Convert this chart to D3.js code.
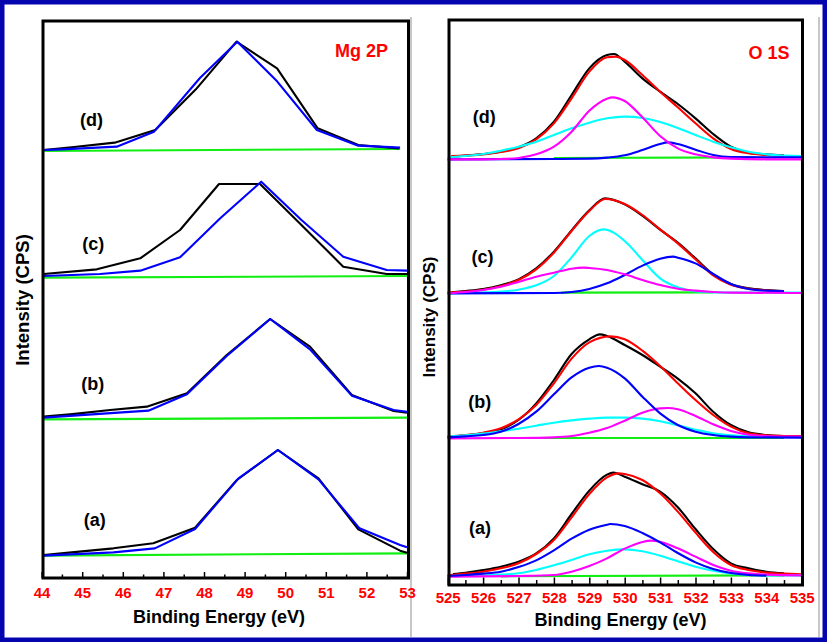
<!DOCTYPE html>
<html><head><meta charset="utf-8">
<script src="https://cdn.jsdelivr.net/npm/d3@7"></script>
<style>body{margin:0;background:#fff} svg{display:block}</style>
</head><body>
<svg id="c" width="827" height="642"></svg>
<script>
// ---------------- DATA ----------------
// Mg 2P panel: binding energy (eV), intensity (arb. counts, stacked)
const MG_TICKS = [44,45,46,47,48,49,50,51,52,53];
const MG_MINOR = [44.5,45.5,46.5,47.5,48.5,49.5,50.5,51.5,52.5];
const O_TICKS  = [525,526,527,528,529,530,531,532,533,534,535];
const O_MINOR  = [525.5,526.5,527.5,528.5,529.5,530.5,531.5,532.5,533.5,534.5];
const SAMPLES  = ["(a)","(b)","(c)","(d)"];

const MG_D_BLACK = [[44.05,1284],[44.8,1293],[45.8,1306],[46.8,1344],[47.8,1466],[48.8,1609],[49.8,1529],[50.8,1349],[51.8,1299],[52.8,1289]];
const MG_D_BLUE  = [[44.05,1284],[44.5,1286],[45.85,1294],[46.77,1339],[47.9,1500],[48.82,1609],[49.8,1490],[50.78,1344],[51.8,1297],[52.83,1291]];
const MG_D_GREEN = [[44.05,1281],[52.83,1287]];

const MG_C_BLACK = [[44.05,912],[45.36,926],[46.43,959],[47.41,1044],[48.37,1182],[49.38,1182],[50.4,1059],[51.43,934],[52.5,912],[53,912]];
const MG_C_BLUE  = [[44.05,906],[45.44,912],[46.43,922],[47.41,962],[48.4,1079],[49.41,1189],[50.4,1074],[51.43,964],[52.5,924],[53,922]];
const MG_C_GREEN = [[44.05,901],[53,906]];

const MG_B_BLACK = [[44.05,484],[44.7,491],[45.69,504],[46.59,514],[47.58,554],[48.56,669],[49.63,777],[50.61,694],[51.64,549],[52.67,501],[53,496]];
const MG_B_BLUE  = [[44.05,481],[45.61,494],[46.63,502],[47.58,551],[48.56,666],[49.63,777],[50.61,686],[51.64,547],[52.67,504],[53,499]];
const MG_B_GREEN = [[44.05,476],[53,481]];

const MG_A_BLACK = [[44.05,69],[44.74,77],[45.77,89],[46.75,104],[47.78,151],[48.81,294],[49.82,384],[50.82,299],[51.8,146],[52.83,82],[53,76]];
const MG_A_BLUE  = [[44.05,67],[45.77,77],[46.79,89],[47.78,147],[48.85,299],[49.82,384],[50.82,296],[51.83,149],[52.83,99],[53,92]];
const MG_A_GREEN = [[44.05,67],[53,74]];

// O 1S panel
const O_D_BLACK = [[525.1,1285],[525.5,1288],[526,1293],[526.5,1300],[527,1313],[527.5,1340],[528,1390],[528.5,1470],[529,1550],[529.5,1590],[529.7,1593],[530,1570],[530.5,1520],[531,1480],[531.5,1443],[532,1400],[532.5,1353],[533,1315],[533.5,1297],[534,1292],[534.5,1289]];
const O_D_RED   = [[525.1,1287],[525.5,1288],[526,1292],[526.5,1299],[527,1310],[527.5,1337],[528,1385],[528.5,1460],[529,1540],[529.5,1583],[529.75,1585],[530,1575],[530.5,1530],[531,1480],[531.5,1433],[532,1385],[532.5,1340],[533,1308],[533.5,1295],[534,1290],[534.5,1288]];
const O_D_CYAN  = [[525,1283],[525.5,1287],[526,1293],[526.5,1303],[527,1315],[527.5,1330],[528,1350],[528.5,1370],[529,1387],[529.5,1400],[530,1405],[530.5,1401],[531,1389],[531.5,1371],[532,1350],[532.5,1330],[533,1313],[533.5,1300],[534,1292],[534.5,1288],[535,1287]];
const O_D_MAG   = [[525,1277],[526,1277],[526.5,1278],[527,1281],[527.5,1292],[528,1315],[528.5,1360],[529,1423],[529.5,1459],[529.65,1463],[530,1452],[530.5,1403],[531,1347],[531.5,1310],[532,1292],[532.5,1283],[533,1279],[534,1277],[535,1277]];
const O_D_BLUE  = [[525,1277],[528,1278],[529,1279],[529.5,1282],[530,1289],[530.5,1305],[531,1323],[531.2,1328],[531.5,1323],[532,1306],[532.5,1290],[533,1284],[534,1283],[535,1283]];
const O_D_GREEN = [[528,1281],[533.7,1283]];

const O_C_BLACK = [[525.1,878],[525.5,882],[526,888],[526.5,899],[527,917],[527.5,950],[528,1000],[528.5,1064],[529,1124],[529.45,1160],[530,1142],[530.5,1108],[531,1066],[531.5,1027],[532,980],[532.5,932],[533,903],[533.5,890],[534,885],[534.5,882]];
const O_C_RED   = [[525,877],[525.5,880],[526,886],[526.5,897],[527,915],[527.5,947],[528,997],[528.5,1062],[529,1122],[529.45,1158],[530,1143],[530.5,1110],[531,1067],[531.5,1025],[532,977],[532.5,929],[533,901],[533.5,889],[534,884],[534.5,881]];
const O_C_CYAN  = [[525,875],[526,878],[526.5,880],[527,886],[527.5,899],[528,927],[528.5,983],[529,1047],[529.4,1067],[530,1032],[530.5,975],[531,920],[531.5,893],[532,881],[533,877],[535,877]];
const O_C_MAG   = [[525,875],[525.5,879],[526,885],[526.5,895],[527,909],[527.5,925],[528,937],[528.5,949],[528.83,952],[529,951],[529.5,945],[530,932],[530.5,915],[531,900],[531.5,889],[532,883],[532.5,879],[533,877],[535,876]];
const O_C_BLUE  = [[525,875],[528,876],[528.5,879],[529,888],[529.5,905],[530,930],[530.5,958],[531,979],[531.37,985],[531.5,982],[532,965],[532.5,933],[533,903],[533.5,888],[534,883],[534.5,881]];
const O_C_GREEN = [[528.2,877],[532.5,878]];

const O_B_BLACK = [[525,444],[525.5,449],[526,455],[526.5,467],[527,495],[527.5,545],[528,615],[528.5,693],[529,737],[529.3,752],[529.5,747],[530,720],[530.5,690],[531,655],[531.5,619],[532,575],[532.5,520],[533,480],[533.5,458],[534,450],[534.5,447],[535,446]];
const O_B_RED   = [[525,446],[525.5,450],[526,457],[526.5,470],[527,497],[527.5,540],[528,605],[528.5,679],[529,728],[529.6,746],[530,737],[530.5,703],[531,657],[531.5,605],[532,555],[532.5,510],[533,475],[533.5,455],[534,449],[534.5,447],[535,446]];
const O_B_CYAN  = [[525,445],[525.5,449],[526,454],[526.5,461],[527,469],[527.5,478],[528,487],[528.5,494],[529,499],[529.5,502],[530,502],[530.5,499],[531,491],[531.5,479],[532,466],[532.5,455],[533,449],[533.5,446],[534,445]];
const O_B_MAG   = [[525,440],[527,441],[528,443],[528.5,447],[529,457],[529.5,471],[530,493],[530.5,517],[531,530],[531.23,531],[531.5,527],[532,507],[532.5,482],[533,462],[533.5,451],[534,447],[534.5,445],[535,445]];
const O_B_BLUE  = [[525,443],[525.5,446],[526,450],[526.5,460],[527,483],[527.5,520],[528,572],[528.5,623],[529,652],[529.27,657],[529.5,652],[530,620],[530.5,565],[531,515],[531.5,480],[532,460],[532.5,450],[533,445],[533.5,443],[535,442]];
const O_B_GREEN = [[526.7,441],[534.5,441]];

const O_A_BLACK = [[525.15,33],[525.5,37],[526,45],[526.5,55],[527,70],[527.5,95],[528,140],[528.5,213],[529,283],[529.5,331],[529.68,337],[530,325],[530.5,302],[531,280],[531.5,233],[532,168],[532.5,108],[533,65],[533.5,50],[534,40],[534.5,35]];
const O_A_RED   = [[525,29],[525.5,34],[526,40],[526.5,50],[527,65],[527.5,93],[528,135],[528.5,203],[529,273],[529.5,323],[529.82,335],[530,333],[530.5,315],[531,275],[531.5,220],[532,157],[532.5,99],[533,60],[533.5,45],[534,37],[534.5,34],[535,32]];
const O_A_CYAN  = [[525,27],[526,29],[526.5,31],[527,35],[527.5,45],[528,59],[528.5,75],[529,92],[529.5,103],[530,107],[530.5,101],[531,88],[531.5,71],[532,55],[532.5,43],[533,35],[533.5,31],[534,29],[535,29]];
const O_A_MAG   = [[525,25],[527,27],[528,30],[528.5,40],[529,57],[529.5,80],[530,109],[530.5,129],[530.72,133],[531,130],[531.5,110],[532,85],[532.5,60],[533,43],[533.5,35],[534,31],[535,29]];
const O_A_BLUE  = [[525,27],[525.5,30],[526,34],[526.5,40],[527,54],[527.5,74],[528,104],[528.5,139],[529,166],[529.5,181],[529.59,183],[530,177],[530.5,156],[531,128],[531.5,96],[532,68],[532.5,48],[533,36],[533.5,30],[534,28]];
const O_A_GREEN = [[526.5,26],[534.5,29]];

// ---------------- DRAW ----------------
const svg = d3.select('#c');
const FONT = "'Liberation Sans', Arial, Helvetica, sans-serif";
const COL = {black:'#000000', blue:'#0000ff', green:'#11ee11', red:'#ff0000', cyan:'#00ffff', mag:'#ff00ff'};

svg.append('rect').attr('width',827).attr('height',642).attr('fill','#fff');

// inset border of right picture
svg.append('line').attr('x1',411).attr('x2',411).attr('y1',17).attr('y2',637).attr('stroke','#b4b4b4').attr('stroke-width',1.5);
svg.append('line').attr('x1',819).attr('x2',819).attr('y1',17).attr('y2',637).attr('stroke','#b4b4b4').attr('stroke-width',1.5);

const panels = [
  {
    x: d3.scaleLinear().domain([44,53]).range([41.6,407]),
    y: d3.scaleLinear().domain([0,1671]).range([578,21]),
    frame: [43,21,408.5,578], ticks: MG_TICKS, minor: MG_MINOR, major: 6, minorLen: 3.5, pad: 9.4,
    curve: d3.curveLinear, title: 'Mg 2P', titlePos: [361.5,56.5],
    xlabelPos: [219,622.5], ylabelPos: [29,300], ylabelSize: 18.5,
    spectra: [
      {lab: SAMPLES[3], pos:[91.5,126], lines:[[MG_D_GREEN,'green'],[MG_D_BLACK,'black'],[MG_D_BLUE,'blue']]},
      {lab: SAMPLES[2], pos:[93.3,249.5], lines:[[MG_C_GREEN,'green'],[MG_C_BLACK,'black'],[MG_C_BLUE,'blue']]},
      {lab: SAMPLES[1], pos:[92.7,389.5], lines:[[MG_B_GREEN,'green'],[MG_B_BLACK,'black'],[MG_B_BLUE,'blue']]},
      {lab: SAMPLES[0], pos:[94.7,526], lines:[[MG_A_GREEN,'green'],[MG_A_BLACK,'black'],[MG_A_BLUE,'blue']]}
    ]
  },
  {
    x: d3.scaleLinear().domain([525,535]).range([447.7,801.7]),
    y: d3.scaleLinear().domain([0,1695]).range([585,20]),
    frame: [449,20,802.5,585], ticks: O_TICKS, minor: O_MINOR, major: 7.5, minorLen: 5, pad: 7.4,
    curve: d3.curveMonotoneX, title: 'O 1S', titlePos: [769,58.5],
    xlabelPos: [620.5,626], ylabelPos: [434.5,317], ylabelSize: 17,
    spectra: [
      {lab: SAMPLES[3], pos:[484.3,123], lines:[[O_D_GREEN,'green'],[O_D_BLACK,'black'],[O_D_RED,'red'],[O_D_CYAN,'cyan'],[O_D_BLUE,'blue'],[O_D_MAG,'mag']]},
      {lab: SAMPLES[2], pos:[482.5,263], lines:[[O_C_GREEN,'green'],[O_C_BLACK,'black'],[O_C_RED,'red'],[O_C_CYAN,'cyan'],[O_C_BLUE,'blue'],[O_C_MAG,'mag']]},
      {lab: SAMPLES[1], pos:[479.7,408], lines:[[O_B_GREEN,'green'],[O_B_BLACK,'black'],[O_B_RED,'red'],[O_B_CYAN,'cyan'],[O_B_MAG,'mag'],[O_B_BLUE,'blue']]},
      {lab: SAMPLES[0], pos:[480,533.5], lines:[[O_A_GREEN,'green'],[O_A_BLACK,'black'],[O_A_RED,'red'],[O_A_CYAN,'cyan'],[O_A_MAG,'mag'],[O_A_BLUE,'blue']]}
    ]
  }
];

panels.forEach(p => {
  const g = svg.append('g');
  const [fx0, fy0, fx1, fy1] = p.frame;
  const gen = d3.line().x(d => p.x(d[0])).y(d => p.y(d[1])).curve(p.curve);

  p.spectra.forEach(s => {
    s.lines.forEach(([data, c]) => {
      g.append('path').attr('d', gen(data)).attr('fill','none')
        .attr('stroke', COL[c]).attr('stroke-width', 2.1)
        .attr('stroke-linejoin','round');
    });
    g.append('text').attr('x', s.pos[0]).attr('y', s.pos[1])
      .attr('text-anchor','middle').attr('font-family',FONT)
      .attr('font-weight','bold').attr('font-size',18).attr('fill','#000')
      .text(s.lab);
  });

  // axes (ticks pointing inward)
  const axMinor = d3.axisBottom(p.x).tickValues(p.minor).tickFormat('')
    .tickSizeInner(-p.minorLen).tickSizeOuter(0);
  const gm = g.append('g').attr('transform',`translate(0,${fy1})`).call(axMinor);
  gm.select('.domain').remove();
  gm.selectAll('line').attr('stroke','#000').attr('stroke-width',1.5);

  const ax = d3.axisBottom(p.x).tickValues(p.ticks).tickFormat(d3.format('d'))
    .tickSizeInner(-p.major).tickSizeOuter(0).tickPadding(p.pad);
  const ga = g.append('g').attr('transform',`translate(0,${fy1})`).call(ax);
  ga.select('.domain').remove();
  ga.selectAll('line').attr('stroke','#000').attr('stroke-width',1.5);
  ga.selectAll('text').attr('fill','#ff0000').attr('font-family',FONT)
    .attr('font-weight','bold').attr('font-size',15);

  g.append('rect').attr('x',fx0).attr('y',fy0).attr('width',fx1-fx0).attr('height',fy1-fy0)
    .attr('fill','none').attr('stroke','#000').attr('stroke-width',3);

  g.append('text').attr('x',p.titlePos[0]).attr('y',p.titlePos[1])
    .attr('text-anchor','middle').attr('font-family',FONT).attr('font-weight','bold')
    .attr('font-size',18).attr('fill','#ff0000').text(p.title);

  g.append('text').attr('x',p.xlabelPos[0]).attr('y',p.xlabelPos[1])
    .attr('text-anchor','middle').attr('font-family',FONT).attr('font-weight','bold')
    .attr('font-size',18).attr('fill','#000').text('Binding Energy (eV)');

  g.append('text').attr('transform',`translate(${p.ylabelPos[0]},${p.ylabelPos[1]}) rotate(-90)`)
    .attr('text-anchor','middle').attr('font-family',FONT).attr('font-weight','bold')
    .attr('font-size',p.ylabelSize).attr('fill','#000').text('Intensity (CPS)');
});

// outer dark-blue border
svg.append('rect').attr('x',2.25).attr('y',2.25).attr('width',827-4.5).attr('height',642-4.5)
  .attr('fill','none').attr('stroke','#0505b0').attr('stroke-width',4.5);
</script>
</body></html>
